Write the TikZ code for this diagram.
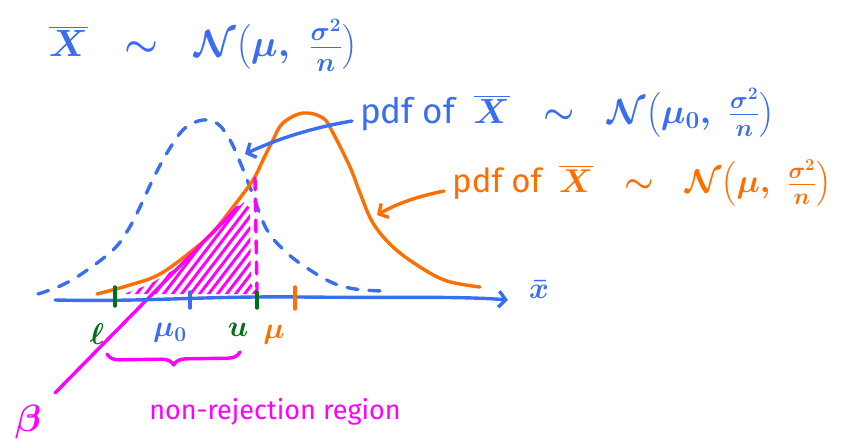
\RequirePackage{fix-cm}
\documentclass[tikz,border=0pt]{standalone}
\usepackage{fontspec}
\setmainfont{Fira Sans}
\usepackage{amsmath}
\usetikzlibrary{arrows.meta,decorations.pathreplacing}
\definecolor{myblue}{RGB}{58,110,240}
\definecolor{myorange}{RGB}{255,110,0}
\definecolor{mymag}{RGB}{255,0,255}
\definecolor{mygreen}{RGB}{0,112,20}
\tikzset{
  pen/.style={line width=3.4pt, line cap=round, line join=round},
  bluepen/.style={pen, draw=myblue},
  orangepen/.style={pen, draw=myorange},
  magpen/.style={pen, draw=mymag},
  greenpen/.style={pen, draw=mygreen},
  dashpen/.style={dash pattern=on 11pt off 11pt},
  barb/.style={-{Straight Barb[length=7pt,width=16pt,line width=3.4pt]}},
  lbl/.style={inner sep=0pt, font=\fontsize{30}{34}\selectfont\boldmath},
}
\newcommand{\mydist}[1]{$\overline{X}\;\;\sim\;\;\mathcal{N}\bigl(#1,\;\frac{\sigma^2}{n}\bigr)$}
\begin{document}
\begin{tikzpicture}[x=1pt,y=-1pt]
\useasboundingbox (0,0) rectangle (841,445);

% title
\node[lbl, text=myblue, font=\fontsize{38}{44}\selectfont\boldmath] (title) at (203,45)
  {\mydist{\mu}};

% hatching
\begin{scope}
  \clip (124,294) -- (150,284) -- (175,269) -- (200,246) -- (222,222) -- (244,202)
        -- (250,208) -- (251,284) -- (259,294) -- cycle;
  \foreach \i in {0,...,22} {
    \draw[magpen, line width=3pt] (60+\i*9,300) -- ++(130,-170);
  }
\end{scope}

% blue dashed pdf
\draw[bluepen, dashpen] plot[smooth, tension=0.6] coordinates {
  (38,294) (60,286) (83,273) (113,250) (128,230) (140,207) (155,175) (170,148)
  (185,128) (203,120) (218,124) (230,140) (240,162) (253,195) (267,230) (287,253)
  (310,270) (333,283) (355,289) (382,291)};

% orange pdf
\draw[orangepen] plot[smooth, tension=0.6] coordinates {
  (97,294) (130,285) (160,274) (193,250) (213,232) (233,207) (253,180) (263,160)
  (273,140) (283,123) (303,113) (323,118) (333,133) (350,167) (360,193) (373,223)
  (393,247) (420,267) (447,281) (480,287)};

% magenta dashed vertical
\coordinate (vtop) at (255,178);
\coordinate (vbot) at (257,290);
\draw[magpen, dash pattern=on 12pt off 9pt] (vtop) -- (vbot);

% beta line
\coordinate (bstart) at (55,393);
\coordinate (bend) at (238,207);
\draw[magpen] (bstart) -- (bend);

% axis
\coordinate (axstart) at (55,300);
\coordinate (axend) at (508,300);
\draw[bluepen, barb] (axstart) .. controls (150,302) and (200,296) .. (300,297)
  .. controls (400,298) and (460,296) .. (axend);
\node[lbl, text=myblue] (xlab) at (539,290) {$\bar{x}$};

% ticks
\draw[greenpen] (115,287) -- (115,306);
\draw[greenpen] (257,292) -- (257,308);
\draw[bluepen] (190,292) -- (190,308);
\draw[orangepen] (295,287) -- (295,309);

% tick labels
\node[lbl, text=mygreen] (lab) at (97,334) {$\ell$};
\node[lbl, text=myblue] (mu0) at (170,333) {$\mu_0$};
\node[lbl, text=mygreen] (ub) at (238,330) {$u$};
\node[lbl, text=myorange] (mu) at (274,335) {$\mu$};

% brace
\coordinate (brl) at (107,354);
\coordinate (brr) at (240,352);
\draw[magpen, decorate, decoration={brace, mirror, amplitude=12pt}] (brl) -- (brr);

\node[lbl, text=mymag, font=\fontsize{27}{30}\selectfont] (nrr) at (275,412) {non-rejection region};
\node[lbl, text=mymag, font=\fontsize{38}{40}\selectfont\boldmath] (beta) at (28,422) {$\beta$};

% blue annotation
\node[lbl, text=myblue, anchor=west, font=\fontsize{35}{40}\selectfont\boldmath] (bluetxt) at (360,113)
  {pdf of\ \ \mydist{\mu_0}};
\coordinate (bluearrtip) at (245,154);
\draw[bluepen, barb] (bluetxt.west) ++(-8,8) .. controls (310,128) and (275,140) .. (bluearrtip);

% orange annotation
\node[lbl, text=myorange, anchor=west, font=\fontsize{33}{38}\selectfont\boldmath] (orangetxt) at (452,183)
  {pdf of\ \ \mydist{\mu}};
\coordinate (orangearrtip) at (377,215);
\draw[orangepen, barb] (orangetxt.west) ++(-8,8) .. controls (420,196) and (400,202) .. (orangearrtip);

\end{tikzpicture}
\end{document}
